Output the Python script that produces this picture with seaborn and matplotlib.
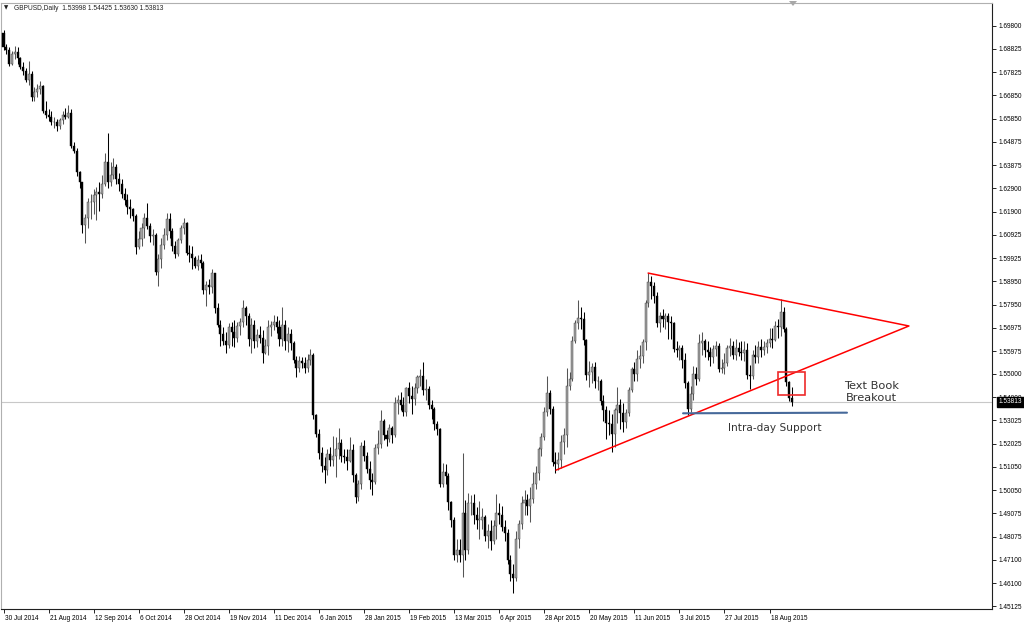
import numpy as np
import pandas as pd
import matplotlib
matplotlib.use("Agg")
import matplotlib.pyplot as plt
import matplotlib.transforms as mtrans
from matplotlib.patches import Rectangle, Polygon
import seaborn as sns

# ---------------- data (GBPUSD daily) ----------------
first_open = 1.6950

close = [
    1.6890, 1.6880, 1.6820,                      # Jul 30 - Aug 1
    1.6860, 1.6870, 1.6845, 1.6805, 1.6790,      # Aug 4
    1.6750, 1.6775, 1.6680, 1.6700, 1.6710,      # Aug 11
    1.6725, 1.6620, 1.6600, 1.6595, 1.6570,      # Aug 18
    1.6570, 1.6555, 1.6580, 1.6600, 1.6595,      # Aug 25
    1.6610, 1.6470, 1.6450, 1.6360, 1.6315,      # Sep 1
    1.6135, 1.6165, 1.6230, 1.6230, 1.6260,      # Sep 8
    1.6275, 1.6265, 1.6310, 1.6400, 1.6315,      # Sep 15
    1.6345, 1.6380, 1.6330, 1.6310, 1.6265,      # Sep 22
    1.6240, 1.6210, 1.6200, 1.6170, 1.6040,      # Sep 29
    1.6075, 1.6120, 1.6165, 1.6130, 1.6085,      # Oct 6
    1.6090, 1.5935, 1.5990, 1.6050, 1.6090,      # Oct 13
    1.6160, 1.6110, 1.6045, 1.6010, 1.6070,      # Oct 20
    1.6120, 1.6140, 1.6015, 1.6010, 1.5995,      # Oct 27
    1.5960, 1.5985, 1.5970, 1.5855, 1.5880,      # Nov 3
    1.5870, 1.5930, 1.5780, 1.5710, 1.5670,      # Nov 10
    1.5640, 1.5625, 1.5700, 1.5680, 1.5655,      # Nov 17
    1.5705, 1.5720, 1.5780, 1.5745, 1.5650,      # Nov 24
    1.5710, 1.5640, 1.5665, 1.5655, 1.5590,      # Dec 1
    1.5620, 1.5700, 1.5710, 1.5720, 1.5700,      # Dec 8
    1.5650, 1.5710, 1.5640, 1.5670, 1.5630,      # Dec 15
    1.5560, 1.5525, 1.5555, 1.5545,              # Dec 22
    1.5525, 1.5560, 1.5580, 1.5325,              # Dec 29
    1.5245, 1.5165, 1.5110, 1.5090, 1.5160,      # Jan 5
    1.5135, 1.5150, 1.5180, 1.5205, 1.5150,      # Jan 12
    1.5145, 1.5130, 1.5175, 1.5070, 1.4975,      # Jan 19
    1.5030, 1.5195, 1.5150, 1.5095, 1.5050,      # Jan 26
    1.5040, 1.5185, 1.5200, 1.5300, 1.5240,      # Feb 2
    1.5225, 1.5270, 1.5240, 1.5375, 1.5390,      # Feb 9
    1.5370, 1.5340, 1.5440, 1.5405, 1.5395,      # Feb 16
    1.5440, 1.5485, 1.5490, 1.5430, 1.5435,      # Feb 23
    1.5370, 1.5350, 1.5285, 1.5265, 1.5030,      # Mar 2
    1.5085, 1.5065, 1.4955, 1.4880, 1.4730,      # Mar 9
    1.4750, 1.4730, 1.4910, 1.4750, 1.4950,      # Mar 16
    1.4950, 1.4900, 1.4880, 1.4880, 1.4890,      # Mar 23
    1.4810, 1.4830, 1.4790, 1.4855, 1.4910,      # Mar 30
    1.4900, 1.4850, 1.4825, 1.4710, 1.4650,      # Apr 6
    1.4630, 1.4800, 1.4860, 1.4950, 1.4965,      # Apr 13
    1.4940, 1.4970, 1.5030, 1.5080, 1.5180,      # Apr 20
    1.5230, 1.5340, 1.5420, 1.5350, 1.5125,      # Apr 27
    1.5115, 1.5135, 1.5210, 1.5240, 1.5450,      # May 4
    1.5480, 1.5640, 1.5715, 1.5740, 1.5735,      # May 11
    1.5645, 1.5495, 1.5510, 1.5530, 1.5470,      # May 18
    1.5470, 1.5385, 1.5345, 1.5290, 1.5285,      # May 25
    1.5245, 1.5345, 1.5370, 1.5335, 1.5295,      # Jun 1
    1.5335, 1.5430, 1.5520, 1.5500, 1.5565,      # Jun 8
    1.5575, 1.5635, 1.5800, 1.5890, 1.5875,      # Jun 15
    1.5830, 1.5715, 1.5745, 1.5735, 1.5745,      # Jun 22
    1.5720, 1.5715, 1.5605, 1.5600, 1.5610,      # Jun 29
    1.5560, 1.5460, 1.5350, 1.5415, 1.5500,      # Jul 6
    1.5480, 1.5630, 1.5640, 1.5600, 1.5595,      # Jul 13
    1.5570, 1.5605, 1.5620, 1.5520, 1.5525,      # Jul 20
    1.5545, 1.5610, 1.5620, 1.5580, 1.5610,      # Jul 27
    1.5595, 1.5590, 1.5600, 1.5495, 1.5490,      # Aug 3
    1.5580, 1.5570, 1.5615, 1.5600, 1.5615,      # Aug 10
    1.5630, 1.5650, 1.5645, 1.5705, 1.5700,      # Aug 17
    1.5765, 1.5690, 1.5465, 1.53998, 1.53813,    # Aug 24
]

high = [
    1.6965, 1.6905, 1.6890,
    1.6875, 1.6895, 1.6890, 1.6850, 1.6825,
    1.6800, 1.6830, 1.6790, 1.6720, 1.6735,
    1.6745, 1.6730, 1.6660, 1.6625, 1.6620,
    1.6595, 1.6585, 1.6590, 1.6620, 1.6630,
    1.6645, 1.6625, 1.6485, 1.6460, 1.6365,
    1.6230, 1.6180, 1.6250, 1.6265, 1.6285,
    1.6295, 1.6315, 1.6345, 1.6440, 1.6525,
    1.6400, 1.6420, 1.6395, 1.6355, 1.6330,
    1.6290, 1.6265, 1.6245, 1.6205, 1.6180,
    1.6110, 1.6140, 1.6185, 1.6225, 1.6140,
    1.6115, 1.6100, 1.6010, 1.6080, 1.6120,
    1.6185, 1.6185, 1.6120, 1.6065, 1.6080,
    1.6135, 1.6165, 1.6145, 1.6050, 1.6045,
    1.6000, 1.6005, 1.6010, 1.5980, 1.5895,
    1.5905, 1.5945, 1.5930, 1.5800, 1.5730,
    1.5700, 1.5680, 1.5715, 1.5720, 1.5730,
    1.5720, 1.5740, 1.5815, 1.5790, 1.5760,
    1.5740, 1.5730, 1.5690, 1.5705, 1.5685,
    1.5650, 1.5730, 1.5725, 1.5750, 1.5745,
    1.5730, 1.5785, 1.5730, 1.5700, 1.5690,
    1.5640, 1.5575, 1.5575, 1.5570,
    1.5570, 1.5585, 1.5605, 1.5590,
    1.5330, 1.5265, 1.5190, 1.5145, 1.5180,
    1.5190, 1.5235, 1.5230, 1.5270, 1.5225,
    1.5180, 1.5180, 1.5230, 1.5200, 1.5080,
    1.5050, 1.5210, 1.5220, 1.5170, 1.5130,
    1.5080, 1.5200, 1.5260, 1.5345, 1.5310,
    1.5260, 1.5285, 1.5280, 1.5400, 1.5410,
    1.5425, 1.5400, 1.5445, 1.5465, 1.5450,
    1.5460, 1.5495, 1.5520, 1.5550, 1.5480,
    1.5450, 1.5390, 1.5360, 1.5300, 1.5270,
    1.5120, 1.5115, 1.5080, 1.4960, 1.4890,
    1.4800, 1.4800, 1.5165, 1.4965, 1.4995,
    1.4985, 1.4990, 1.4935, 1.4960, 1.4930,
    1.4900, 1.4860, 1.4880, 1.4880, 1.4990,
    1.4950, 1.4940, 1.4880, 1.4840, 1.4730,
    1.4690, 1.4830, 1.4880, 1.4980, 1.5005,
    1.4990, 1.5020, 1.5085, 1.5110, 1.5190,
    1.5250, 1.5360, 1.5490, 1.5430, 1.5365,
    1.5170, 1.5170, 1.5240, 1.5270, 1.5525,
    1.5510, 1.5660, 1.5730, 1.5815, 1.5785,
    1.5765, 1.5650, 1.5555, 1.5545, 1.5550,
    1.5490, 1.5480, 1.5410, 1.5365, 1.5345,
    1.5330, 1.5355, 1.5445, 1.5395, 1.5375,
    1.5350, 1.5445, 1.5530, 1.5550, 1.5600,
    1.5625, 1.5650, 1.5815, 1.5930, 1.5915,
    1.5890, 1.5850, 1.5765, 1.5775, 1.5760,
    1.5760, 1.5745, 1.5720, 1.5640, 1.5625,
    1.5625, 1.5590, 1.5470, 1.5450, 1.5535,
    1.5530, 1.5670, 1.5680, 1.5650, 1.5640,
    1.5615, 1.5625, 1.5640, 1.5630, 1.5565,
    1.5590, 1.5625, 1.5655, 1.5640, 1.5650,
    1.5635, 1.5640, 1.5640, 1.5630, 1.5540,
    1.5600, 1.5625, 1.5640, 1.5650, 1.5640,
    1.5650, 1.5695, 1.5695, 1.5725, 1.5735,
    1.5819, 1.5785, 1.5700, 1.5470, 1.54425,
]

low = [
    1.6880, 1.6860, 1.6810,
    1.6815, 1.6840, 1.6820, 1.6795, 1.6770,
    1.6740, 1.6730, 1.6660, 1.6660, 1.6680,
    1.6690, 1.6610, 1.6590, 1.6575, 1.6560,
    1.6545, 1.6535, 1.6540, 1.6565, 1.6585,
    1.6590, 1.6460, 1.6440, 1.6340, 1.6290,
    1.6100, 1.6055, 1.6120, 1.6160, 1.6180,
    1.6155, 1.6195, 1.6250, 1.6300, 1.6290,
    1.6300, 1.6330, 1.6310, 1.6280, 1.6250,
    1.6220, 1.6180, 1.6165, 1.6150, 1.6010,
    1.6030, 1.6045, 1.6080, 1.6115, 1.6060,
    1.6050, 1.5920, 1.5875, 1.5950, 1.6030,
    1.6070, 1.6080, 1.6025, 1.5995, 1.6000,
    1.6055, 1.6095, 1.6005, 1.5975, 1.5945,
    1.5950, 1.5940, 1.5950, 1.5840, 1.5790,
    1.5840, 1.5845, 1.5760, 1.5700, 1.5620,
    1.5625, 1.5590, 1.5610, 1.5620, 1.5615,
    1.5635, 1.5665, 1.5700, 1.5710, 1.5620,
    1.5590, 1.5610, 1.5615, 1.5630, 1.5545,
    1.5585, 1.5580, 1.5660, 1.5685, 1.5675,
    1.5620, 1.5620, 1.5600, 1.5595, 1.5600,
    1.5545, 1.5485, 1.5510, 1.5525,
    1.5505, 1.5510, 1.5540, 1.5310,
    1.5230, 1.5140, 1.5085, 1.5035, 1.5070,
    1.5110, 1.5110, 1.5060, 1.5140, 1.5125,
    1.5120, 1.5090, 1.5125, 1.5040, 1.4950,
    1.4960, 1.5010, 1.5130, 1.5080, 1.5010,
    1.4985, 1.5030, 1.5160, 1.5185, 1.5220,
    1.5195, 1.5210, 1.5205, 1.5230, 1.5330,
    1.5345, 1.5320, 1.5320, 1.5375, 1.5330,
    1.5370, 1.5420, 1.5450, 1.5410, 1.5390,
    1.5350, 1.5310, 1.5260, 1.5240, 1.5020,
    1.5020, 1.5030, 1.4920, 1.4850, 1.4710,
    1.4700, 1.4700, 1.4635, 1.4710, 1.4735,
    1.4900, 1.4860, 1.4840, 1.4800, 1.4840,
    1.4790, 1.4760, 1.4750, 1.4775, 1.4800,
    1.4860, 1.4830, 1.4790, 1.4690, 1.4620,
    1.4570, 1.4620, 1.4760, 1.4840, 1.4900,
    1.4900, 1.4870, 1.4950, 1.5010, 1.5050,
    1.5150, 1.5220, 1.5320, 1.5330, 1.5110,
    1.5080, 1.5090, 1.5100, 1.5160, 1.5190,
    1.5430, 1.5470, 1.5630, 1.5690, 1.5690,
    1.5625, 1.5475, 1.5445, 1.5460, 1.5440,
    1.5430, 1.5370, 1.5300, 1.5225, 1.5240,
    1.5170, 1.5190, 1.5290, 1.5265, 1.5255,
    1.5270, 1.5320, 1.5425, 1.5470, 1.5470,
    1.5525, 1.5545, 1.5600, 1.5785, 1.5820,
    1.5800, 1.5700, 1.5680, 1.5700, 1.5690,
    1.5650, 1.5650, 1.5595, 1.5570, 1.5560,
    1.5525, 1.5440, 1.5325, 1.5340, 1.5390,
    1.5455, 1.5470, 1.5580, 1.5570, 1.5560,
    1.5535, 1.5545, 1.5575, 1.5510, 1.5505,
    1.5500, 1.5535, 1.5575, 1.5565, 1.5560,
    1.5575, 1.5560, 1.5555, 1.5480, 1.5435,
    1.5480, 1.5545, 1.5545, 1.5570, 1.5580,
    1.5590, 1.5615, 1.5610, 1.5640, 1.5655,
    1.5660, 1.5680, 1.5450, 1.5385, 1.53630,
]

holidays = ["2014-12-25", "2015-01-01"]

date_labels = ["30 Jul 2014", "21 Aug 2014", "12 Sep 2014", "6 Oct 2014",
               "28 Oct 2014", "19 Nov 2014", "11 Dec 2014", "6 Jan 2015",
               "28 Jan 2015", "19 Feb 2015", "13 Mar 2015", "6 Apr 2015",
               "28 Apr 2015", "20 May 2015", "11 Jun 2015", "3 Jul 2015",
               "27 Jul 2015", "18 Aug 2015"]

price_ticks = [1.69800, 1.68825, 1.67825, 1.66850, 1.65850, 1.64875, 1.63875,
               1.62900, 1.61900, 1.60925, 1.59925, 1.58950, 1.57950, 1.56975,
               1.55975, 1.55000, 1.54000, 1.53025, 1.52025, 1.51050, 1.50050,
               1.49075, 1.48075, 1.47100, 1.46100, 1.45125]

last_price = 1.53813
header = "GBPUSD,Daily  1.53998 1.54425 1.53630 1.53813"

# drawn objects: (bar position, price)
triangle_bar = [196.2, 321.5, 228.9]
triangle_price = [1.5091, 1.5704, 1.5929]
support_bar = [241.3, 299.5]
support_price = [1.53326, 1.53352]
box_bar = [275.0, 284.6]
box_price = [1.5410, 1.5508]

# ---------------- table ----------------
days = pd.bdate_range("2014-07-30", "2015-08-28")
days = days[~days.isin(pd.to_datetime(holidays))]
assert len(days) == len(close) == len(high) == len(low)

df = pd.DataFrame({"date": days, "close": close, "high": high, "low": low})
df["open"] = [first_open] + close[:-1]
df["bar"] = np.arange(len(df))
df["up"] = df["close"] >= df["open"]

# ---------------- figure ----------------
sns.set_theme(style="white")
plt.rcParams["font.family"] = ["Liberation Sans", "DejaVu Sans"]

W, H = 1024, 623
fig = plt.figure(figsize=(W / 100, H / 100), dpi=100)
fig.patch.set_facecolor("white")
ax = fig.add_axes([1 / W, (H - 609) / H, 991 / W, 606 / H])
ax.set_facecolor("white")

up = df[df["up"]]
dn = df[~df["up"]]
# wicks
ax.vlines(up["bar"], up["low"], up["high"], colors="#555555", lw=0.75, zorder=2)
ax.vlines(dn["bar"], dn["low"], dn["high"], colors="black", lw=0.75, zorder=2)
# bodies
for part, face, edge in ((up, "#a2a2a2", "#3a3a3a"), (dn, "black", "black")):
    lo = part[["open", "close"]].min(axis=1)
    hgt = (part["close"] - part["open"]).abs().clip(lower=0.0002)
    ax.bar(part["bar"], hgt, bottom=lo, width=0.72, color=face,
           edgecolor=edge, linewidth=0.3, zorder=3)

# current price line
ax.axhline(last_price, color="#c8c8c8", lw=0.8, zorder=1)

# triangle, support, breakout box
sns.lineplot(x=triangle_bar, y=triangle_price, sort=False, color="#ff0000",
             lw=1.1, ax=ax, zorder=5)
sns.lineplot(x=support_bar, y=support_price, sort=False, color="#46699a",
             lw=1.5, ax=ax, zorder=5)
ax.add_patch(Rectangle((box_bar[0], box_price[0]), box_bar[1] - box_bar[0],
                       box_price[1] - box_price[0], fill=False,
                       edgecolor="#ee2a2a", lw=1.2, zorder=6))

ax.text(308.1, 1.5449, "Text Book", ha="center", va="center", fontsize=8.2,
        color="#333333", family="DejaVu Sans")
ax.text(308.1, 1.5396, "Breakout", ha="center", va="center", fontsize=8.2,
        color="#333333", family="DejaVu Sans")
ax.text(273.8, 1.5270, "Intra-day Support", ha="center", va="center",
        fontsize=7.6, color="#333333", family="DejaVu Sans")

# axes
ax.set_xlim(-0.89, 351.0)
ax.set_ylim(1.45002, 1.70778)
ax.yaxis.tick_right()
ax.set_yticks(price_ticks)
ax.set_yticklabels([f"{p:.5f}" for p in price_ticks])
xt = df["bar"].values[::16]
ax.set_xticks(xt)
ax.set_xticklabels(date_labels, ha="left")
ax.tick_params(axis="y", direction="out", length=3, width=0.6, pad=1.5,
               labelsize=4.7, colors="black", right=True, left=False)
ax.tick_params(axis="x", direction="out", length=3, width=0.6, pad=1.5,
               labelsize=4.7, colors="black", bottom=True)
for lab in ax.get_xticklabels():
    lab.set_transform(lab.get_transform() +
                      mtrans.ScaledTranslation(1 / 100, 0, fig.dpi_scale_trans))
ax.grid(False)
for side in ("right", "bottom"):
    ax.spines[side].set_color("#202020")
    ax.spines[side].set_linewidth(0.8)
for side in ("left", "top"):
    ax.spines[side].set_color("#b0b0b0")
    ax.spines[side].set_linewidth(0.8)
ax.set_xlabel("")
ax.set_ylabel("")

# last price tag on the price scale (covers the 1.54000 label, as in MT4)
tr = mtrans.blended_transform_factory(ax.transAxes, ax.transData)
ax.text(1.0065, last_price, f"{last_price:.5f}", transform=tr, ha="left",
        va="center", fontsize=4.7, color="white", zorder=10, clip_on=False,
        bbox=dict(boxstyle="square,pad=0.25", fc="black", ec="black"))

# header and chart-shift marker
fig.text(14 / W, 1 - 8 / H, header, fontsize=4.8, va="center", ha="left",
         color="#202020")
fig.text(4 / W, 1 - 8 / H, "\u25bc", fontsize=4, va="center", ha="left",
         color="#202020", family="DejaVu Sans")
fig.patches.append(Polygon([[789 / W, 1 - 1 / H], [797 / W, 1 - 1 / H],
                            [793 / W, 1 - 6 / H]], closed=True,
                           transform=fig.transFigure, fc="#a8a8a8", ec="none"))

fig.savefig("out.png", dpi=100)
